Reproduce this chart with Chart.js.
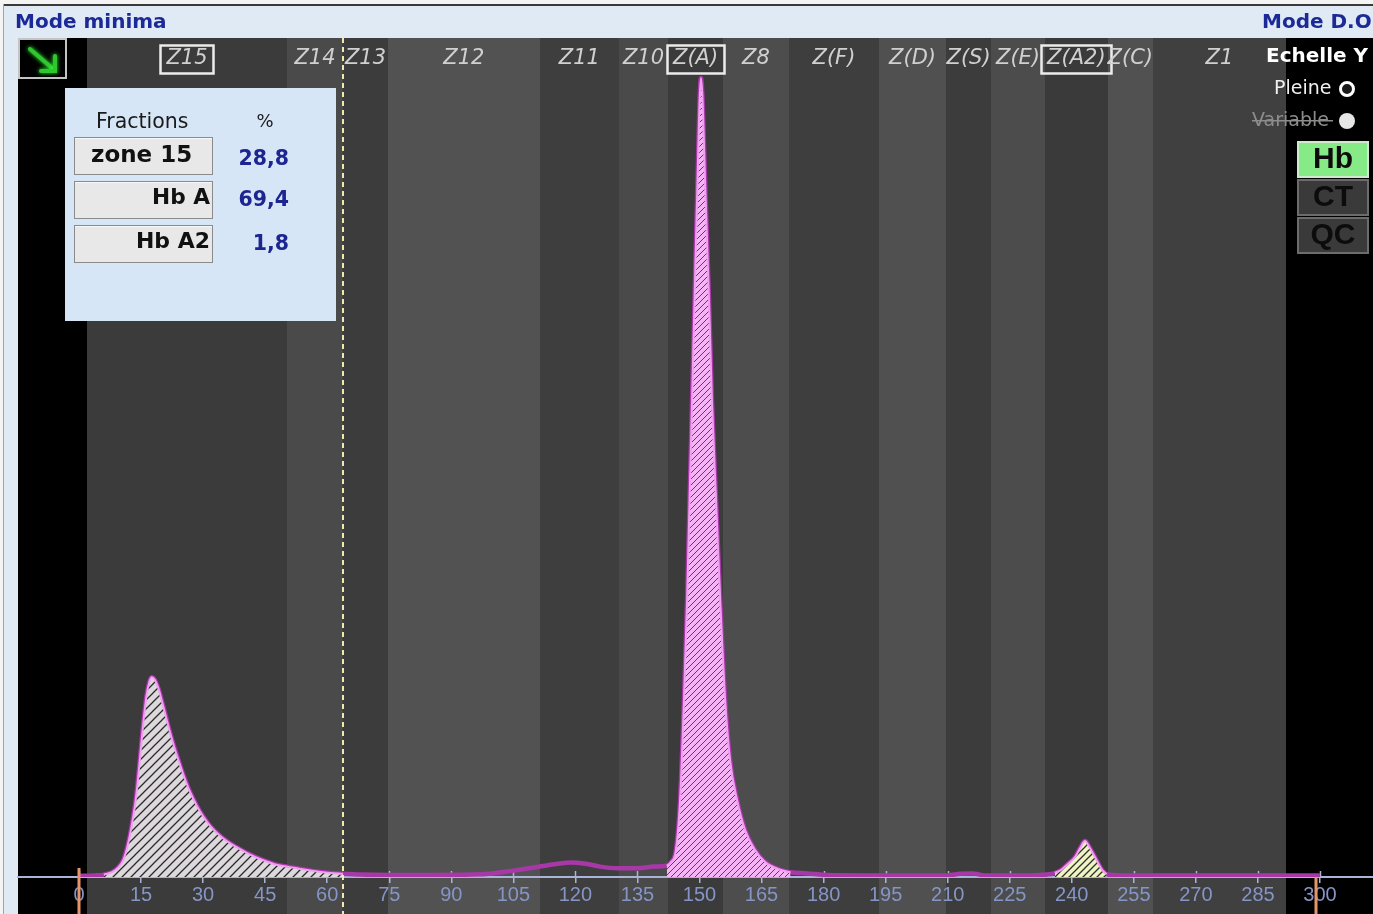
<!DOCTYPE html>
<html><head><meta charset="utf-8">
<script src="https://cdn.jsdelivr.net/npm/chart.js@4.4.1/dist/chart.umd.min.js"></script>
<style>html,body{margin:0;padding:0;background:#dfeaf5;overflow:hidden}canvas{display:block}</style>
</head><body>
<canvas id="c" width="1373" height="914"></canvas>
<script>
// ---- data ----
const migration = [0,4,6,8,9.5,10.7,11.8,12.7,13.8,14.7,15.5,16.3,17.0,17.6,18.3,19.2,20.0,21.0,22.0,23.0,24.0,25.3,26.8,28.5,30.0,31.7,34.0,36.0,38.2,41.0,44.5,48.0,52.7,56.0,60.7,63.8,68,75,85,95,100,105,110,115,119,122,126,130,135,139,142.1,143.0,144.3,145.3,146.25,147.0,147.6,148.2,148.8,149.4,150.35,151.5,152.3,153.0,154.0,155.0,156.2,157.4,159.1,161.0,163.4,165.8,169.5,172,176,181,190,200,210,213,216,219,230,234,235.9,237.5,239,240.8,242,243.2,244.3,246.0,247.3,248.4,252,270,300];
const absorbance = [0.15,0.2,0.3,0.6,1.2,2.1,4.0,6.3,10.0,14.6,19.0,22.6,24.4,25.0,24.7,23.6,22.1,20.1,18.1,16.3,14.7,12.7,10.7,8.9,7.6,6.4,5.2,4.4,3.7,2.9,2.1,1.5,1.1,0.8,0.5,0.4,0.3,0.25,0.25,0.3,0.45,0.8,1.2,1.6,1.8,1.7,1.3,1.1,1.1,1.3,1.4,1.8,3.4,9.6,22.2,34.7,47.2,59.7,72.2,84.7,100,84.7,72.2,59.7,47.2,34.7,22.2,14.6,9.6,5.9,3.4,1.9,0.9,0.6,0.45,0.25,0.2,0.2,0.2,0.4,0.45,0.2,0.2,0.3,0.5,0.9,1.6,2.5,3.6,4.5,3.7,2.1,0.9,0.35,0.2,0.2,0.2];
const xTicks = [0,15,30,45,60,75,90,105,120,135,150,165,180,195,210,225,240,255,270,285,300];
const zoneNames = ['Z15','Z14','Z13','Z12','Z11','Z10','Z(A)','Z8','Z(F)','Z(D)','Z(S)','Z(E)','Z(A2)','Z(C)','Z1'];
const zoneEdges = [1.9,50.3,63.8,74.7,111.4,130.5,142.4,155.7,171.6,193.4,209.6,220.5,233.5,248.7,259.6,291.8];
const zoneShades = ['#3b3b3b','#4a4a4a','#3c3c3c','#525252','#3e3e3e','#4a4a4a','#3b3b3b','#4d4d4d','#3e3e3e','#505050','#3c3c3c','#4c4c4c','#3a3a3a','#515151','#404040'];
const boxedZones = ['Z15','Z(A)','Z(A2)'];
const fractionNames = ['zone 15','Hb A','Hb A2'];
const fractionPercents = ['28,8','69,4','1,8'];
const fractionStart = [5, 142.1, 235.9];
const fractionEnd = [63.8, 172, 248.4];
const cutoffMark = 63.8;
const runMarks = [0, 299];

// ---- helpers ----
const canvas = document.getElementById('c');
const mainCtx = canvas.getContext('2d');
function hatch(bg, fg, s, lw){
  const c = document.createElement('canvas'); c.width = s; c.height = s;
  const g = c.getContext('2d');
  g.fillStyle = bg; g.fillRect(0,0,s,s);
  g.strokeStyle = fg; g.lineWidth = lw;
  g.beginPath();
  g.moveTo(-1,s+1); g.lineTo(s+1,-1);
  g.moveTo(-2,2); g.lineTo(2,-2);
  g.moveTo(s-2,s+2); g.lineTo(s+2,s-2);
  g.stroke();
  return mainCtx.createPattern(c,'repeat');
}
const fills = [hatch('#dcd8dc','#2a2a2a',9,1.3), hatch('#f6b4f6','#6a346a',6,1.0), hatch('#eef4c2','#2e2e2e',7,1.3)];
function txt(ctx, s, x, y, font, color, align, maxW){
  ctx.font = font; ctx.fillStyle = color; ctx.textAlign = align || 'left'; ctx.textBaseline = 'middle';
  if (maxW) ctx.fillText(s, x, y, maxW); else ctx.fillText(s, x, y);
}
const points = migration.map((m,i)=>({x:m, y:absorbance[i]}));
const fractionData = fractionStart.map((s,k)=>points.filter(p=>p.x>=s && p.x<=fractionEnd[k]));

const decor = {
  id:'decor',
  beforeDraw(chart){
    const ctx = chart.ctx, W = chart.width, H = chart.height, a = chart.chartArea, xs = chart.scales.x;
    ctx.save();
    ctx.fillStyle = '#dfeaf5'; ctx.fillRect(0,0,W,H);
    ctx.fillStyle = '#f4f4f4'; ctx.fillRect(0,0,W,4); ctx.fillRect(0,0,3,H);
    ctx.fillStyle = '#3a3a3a'; ctx.fillRect(3,4,W,2);
    ctx.fillStyle = '#9aa6b2'; ctx.fillRect(3,4,1,H);
    txt(ctx,'Mode minima',15,23,'bold 20px "DejaVu Sans"','#1b2a96','left',158);
    txt(ctx,'Mode D.O',1262,23,'bold 20px "DejaVu Sans"','#1b2a96','left');
    ctx.fillStyle = '#000'; ctx.fillRect(a.left, a.top, W-a.left, H-a.top);
    for (let i=0;i<zoneNames.length;i++){
      const x0 = Math.round(xs.getPixelForValue(zoneEdges[i])), x1 = Math.round(xs.getPixelForValue(zoneEdges[i+1]));
      ctx.fillStyle = zoneShades[i]; ctx.fillRect(x0, a.top, x1-x0, H-a.top);
    }
    ctx.restore();
  },
  beforeDatasetsDraw(chart){
    const ctx = chart.ctx, a = chart.chartArea, xs = chart.scales.x;
    ctx.save(); ctx.strokeStyle = '#aab4d6'; ctx.lineWidth = 1.5;
    xTicks.forEach(v=>{ const x = Math.round(xs.getPixelForValue(v))+0.5; ctx.beginPath(); ctx.moveTo(x,a.bottom-6); ctx.lineTo(x,a.bottom); ctx.stroke(); });
    ctx.restore();
  },
  afterDatasetsDraw(chart){
    const ctx = chart.ctx, a = chart.chartArea, xs = chart.scales.x, H = chart.height;
    ctx.save();
    const xc = Math.round(xs.getPixelForValue(cutoffMark));
    ctx.strokeStyle = '#f3e8b0'; ctx.lineWidth = 2; ctx.setLineDash([5,4]);
    ctx.beginPath(); ctx.moveTo(xc, a.top); ctx.lineTo(xc, H); ctx.stroke();
    ctx.setLineDash([]);
    ctx.strokeStyle = '#e8946a'; ctx.lineWidth = 3;
    runMarks.forEach((v,i)=>{ const x = Math.round(xs.getPixelForValue(v)); ctx.beginPath(); ctx.moveTo(x, i===0 ? a.bottom-9 : a.bottom); ctx.lineTo(x,H); ctx.stroke(); });
    for (let i=0;i<zoneNames.length;i++){
      const cx = (xs.getPixelForValue(zoneEdges[i]) + xs.getPixelForValue(zoneEdges[i+1]))/2;
      txt(ctx, zoneNames[i], cx, 59, 'oblique 21px "DejaVu Sans"', '#d0d0d0', 'center');
      if (boxedZones.includes(zoneNames[i])){
        ctx.font = 'oblique 21px "DejaVu Sans"';
        const w = ctx.measureText(zoneNames[i]).width + 12;
        ctx.strokeStyle = '#ececec'; ctx.lineWidth = 2.5;
        ctx.strokeRect(Math.round(cx - w/2)+0.5, 45.5, Math.round(w), 28);
      }
    }
    ctx.restore();
  },
  afterDraw(chart){
    const ctx = chart.ctx;
    ctx.save();
    ctx.fillStyle = '#000'; ctx.fillRect(19,39,47,39);
    ctx.strokeStyle = '#c4c4c4'; ctx.lineWidth = 2; ctx.strokeRect(19,39,47,39);
    ctx.strokeStyle = '#2fc62f'; ctx.lineWidth = 4; ctx.lineCap = 'round';
    ctx.shadowColor = '#3f3'; ctx.shadowBlur = 4;
    ctx.beginPath(); ctx.moveTo(30,49); ctx.lineTo(52,68); ctx.stroke();
    ctx.beginPath(); ctx.moveTo(55,56); ctx.lineTo(55,71); ctx.lineTo(41,71); ctx.stroke();
    ctx.shadowBlur = 0; ctx.lineCap = 'butt';
    ctx.fillStyle = '#d7e6f6'; ctx.fillRect(65,88,271,233);
    txt(ctx,'Fractions',96,123,'20.5px "DejaVu Sans"','#1a1a1a','left',95);
    txt(ctx,'%',265,122,'18px "DejaVu Sans"','#1a1a1a','center');
    const rowY = [137,181,225], rowMid = [156,198,242], valMid = [160,201,245];
    fractionNames.forEach((n,i)=>{
      ctx.fillStyle = '#e8e8e8'; ctx.fillRect(74,rowY[i],139,37);
      ctx.strokeStyle = '#8a8a8a'; ctx.lineWidth = 1; ctx.strokeRect(74.5,rowY[i]+0.5,138,37);
      ctx.fillStyle = '#f8f8f8'; ctx.fillRect(75,rowY[i]+1,137,1);
      if (i===0) txt(ctx,n,91,rowMid[i],'bold 23px "DejaVu Sans"','#111','left',105);
      else txt(ctx,n,210,rowMid[i],'bold 22px "DejaVu Sans"','#111','right',i===1?58:74);
      txt(ctx,fractionPercents[i],289,valMid[i],'bold 20.5px "DejaVu Sans"','#1c2590','right');
    });
    txt(ctx,'Echelle Y',1266,57,'bold 20px "DejaVu Sans"','#ffffff','left',104);
    txt(ctx,'Pleine',1274,89,'19px "DejaVu Sans"','#f0f0f0','left',59);
    ctx.beginPath(); ctx.arc(1347,89,6.5,0,Math.PI*2); ctx.fillStyle = '#1a1a1a'; ctx.fill();
    ctx.strokeStyle = '#ffffff'; ctx.lineWidth = 3; ctx.stroke();
    txt(ctx,'Variable',1252,121,'19px "DejaVu Sans"','#8c8c8c','left',81);
    ctx.fillStyle = '#8c8c8c'; ctx.fillRect(1252,120,81,1.5);
    ctx.beginPath(); ctx.arc(1347,121,8,0,Math.PI*2); ctx.fillStyle = '#e6e6e6'; ctx.fill();
    const btn = [['Hb',141,'#86ea86','#cfe9cf'],['CT',179,'#3a3a3a','#6c6c6c'],['QC',217,'#3a3a3a','#6c6c6c']];
    btn.forEach(b=>{
      ctx.fillStyle = b[2]; ctx.fillRect(1297,b[1],72,37);
      ctx.strokeStyle = b[3]; ctx.lineWidth = 2; ctx.strokeRect(1298,b[1]+1,70,35);
      txt(ctx,b[0],1333,b[1]+19,'bold 30px "Liberation Sans"','#0c0c0c','center');
    });
    ctx.restore();
  }
};

new Chart(canvas, {
  type:'line',
  data:{ datasets:[
    { data: points, borderColor:'#a838a8', borderWidth:4.5, pointRadius:0, fill:false, cubicInterpolationMode:'monotone', order:10 },
    { data: fractionData[0], borderColor:'#f0a0f0', borderWidth:2, backgroundColor: fills[0], pointRadius:0, fill:'origin', cubicInterpolationMode:'monotone', order:5 },
    { data: fractionData[1], borderColor:'#f0a0f0', borderWidth:2, backgroundColor: fills[1], pointRadius:0, fill:'origin', cubicInterpolationMode:'monotone', order:5 },
    { data: fractionData[2], borderColor:'#f0a0f0', borderWidth:2, backgroundColor: fills[2], pointRadius:0, fill:'origin', cubicInterpolationMode:'monotone', order:5 }
  ]},
  options:{
    responsive:false, animation:false, devicePixelRatio:1,
    layout:{ padding:{ left:18, top:38, right:0, bottom:0 } },
    plugins:{ legend:{display:false}, tooltip:{enabled:false} },
    scales:{
      x:{ type:'linear', min:-14.746, max:312.81,
          afterBuildTicks:(s)=>{ s.ticks = xTicks.map(v=>({value:v})); },
          afterFit:(s)=>{ s.height = 37; },
          border:{ display:true, color:'#a9b4d8', width:2 },
          grid:{ display:true, drawOnChartArea:false, drawTicks:true, tickLength:6, color:'#a9b4d8', lineWidth:1.5 },
          ticks:{ color:'#8595c6', font:{ family:'"Liberation Sans"', size:20 }, padding:0, maxRotation:0, autoSkip:false, callback:(v)=>String(v) } },
      y:{ type:'linear', min:0, max:105, display:false }
    }
  },
  plugins:[decor]
});
</script>
</body></html>
